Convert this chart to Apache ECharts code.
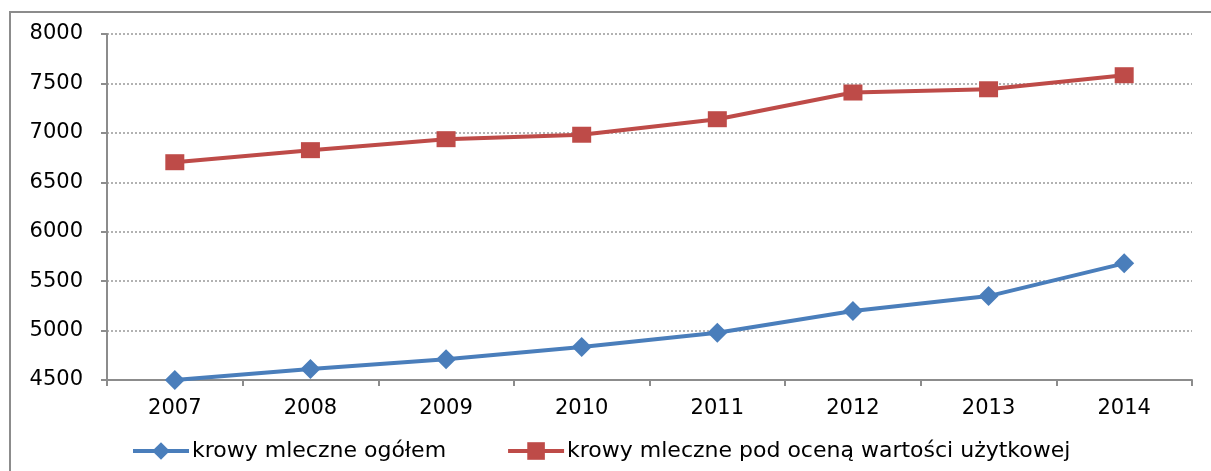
<!DOCTYPE html>
<html>
<head>
<meta charset="utf-8">
<script src="https://cdn.jsdelivr.net/npm/echarts@6/dist/echarts.min.js"></script>
<style>
  html, body { margin: 0; padding: 0; background: #fff; }
  #chart { width: 1211px; height: 471px; }
</style>
</head>
<body>
<div id="chart"></div>
<script>
// lata
var years = ['2007', '2008', '2009', '2010', '2011', '2012', '2013', '2014'];
// krowy mleczne ogółem
var ogolem = [4500, 4611, 4709, 4833, 4978, 5197, 5349, 5680];
// krowy mleczne pod oceną wartości użytkowej
var podOcena = [6703, 6825, 6936, 6981, 7138, 7408, 7441, 7583];
var seriesNames = ['krowy mleczne ogółem', 'krowy mleczne pod oceną wartości użytkowej'];

var myChart = echarts.init(document.getElementById('chart'));
var font = 'DejaVu Sans';
var option = {
    backgroundColor: '#fff',
    animation: false,
    graphic: [{
        type: 'rect',
        shape: { x: 10, y: 12, width: 1220, height: 480 },
        style: { fill: 'none', stroke: '#8c8c8c', lineWidth: 2 },
        silent: true
    }],
    grid: { left: 107, right: 19, top: 34, bottom: 91 },
    legend: {
        left: 126,
        top: 435,
        itemWidth: 56,
        itemHeight: 22,
        itemGap: 60,
        lineStyle: { width: 4 },
        textStyle: { fontFamily: font, fontSize: 22, color: '#000', padding: [0, 0, 0, -2] },
        data: seriesNames
    },
    xAxis: {
        type: 'category',
        data: years,
        boundaryGap: true,
        axisLine: { lineStyle: { color: '#8c8c8c', width: 2 } },
        axisTick: { show: true, length: 6, lineStyle: { color: '#8c8c8c', width: 2 } },
        axisLabel: { fontFamily: font, fontSize: 21, color: '#000', margin: 18 }
    },
    yAxis: {
        type: 'value',
        min: 4500,
        max: 8000,
        interval: 500,
        axisLine: { show: true, lineStyle: { color: '#8c8c8c', width: 2 } },
        axisTick: { show: true, length: 6, lineStyle: { color: '#8c8c8c', width: 2 } },
        axisLabel: {
            fontFamily: font, fontSize: 21, color: '#000', margin: 24,
            formatter: function (v) { return String(v); }
        },
        splitLine: { lineStyle: { color: '#999', width: 1.5, type: [2, 2] } }
    },
    series: [{
        name: seriesNames[0],
        type: 'line',
        data: ogolem,
        symbol: 'diamond',
        symbolSize: [20, 20],
        itemStyle: { color: '#4a7ebb' },
        lineStyle: { color: '#4a7ebb', width: 4 },
        z: 3
    }, {
        name: seriesNames[1],
        type: 'line',
        data: podOcena,
        symbol: 'rect',
        symbolSize: [19, 16],
        itemStyle: { color: '#be4b48' },
        lineStyle: { color: '#be4b48', width: 4 },
        z: 3
    }]
};
myChart.setOption(option);
</script>
</body>
</html>
